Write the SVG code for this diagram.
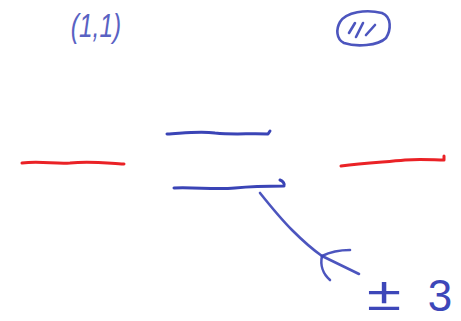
<svg xmlns="http://www.w3.org/2000/svg" width="461" height="321" viewBox="0 0 461 321">
<style>
.ink{fill:none;stroke:#3d47b9;stroke-width:2.6;stroke-linecap:round;stroke-linejoin:round;opacity:0.92}
.red{fill:none;stroke:#ea2226;stroke-width:3;stroke-linecap:round;stroke-linejoin:round}
.blue{fill:none;stroke:#3a44b6;stroke-width:3;stroke-linecap:round;stroke-linejoin:round}
.txt{fill:#3d47b9;font-family:"Liberation Sans",Arial,sans-serif}
</style>
<rect width="461" height="321" fill="#ffffff"/>
<g id="label-left">
<text class="txt" x="0" y="0" font-size="34" text-anchor="middle" font-style="italic" opacity="0.85" transform="translate(96,37) scale(0.72,1)">(1,1)</text>
</g>
<g id="label-right">
<path class="ink" d="M340,22 C346,12 366,9 382,13 C392,17 391,30 386,38 C378,46 356,47 344,43 C336,39 336,29 340,22 Z"/>
<path class="ink" d="M349,33 L355,23 M356,37 L363,23 M366,35 L375,25"/>
</g>
<g id="level-left">
<path class="red" d="M22,163 C40,161 55,164 70,163 C90,161 105,163 124,164"/>
</g>
<g id="level-upper">
<path class="blue" d="M167,134 C185,133 200,131 215,133 C235,135 250,133 268,134 L270,131"/>
</g>
<g id="level-lower">
<path class="blue" d="M174,188 C195,187 215,190 235,188 C255,186 270,186 284,186 C285,184 283,181 280,180"/>
</g>
<g id="level-right">
<path class="red" d="M341,166 C365,163 385,162 405,160 C420,159 435,160 444,160 L444,156"/>
</g>
<g id="label-pm3">
<text class="txt" x="0" y="0" font-size="46" text-anchor="middle" transform="translate(384,310) scale(1.35,1)">±</text>
<text class="txt" x="440" y="311" font-size="44" text-anchor="middle">3</text>
</g>
<g id="connectors">
<path class="ink" d="M260,193 C272,208 282,220 292,230 C302,240 312,249 322,256"/>
<path class="ink" d="M350,250 C340,250 330,252 322,256 C320,265 323,274 330,280"/>
<path class="ink" d="M322,256 L359,274"/>
</g>
</svg>
